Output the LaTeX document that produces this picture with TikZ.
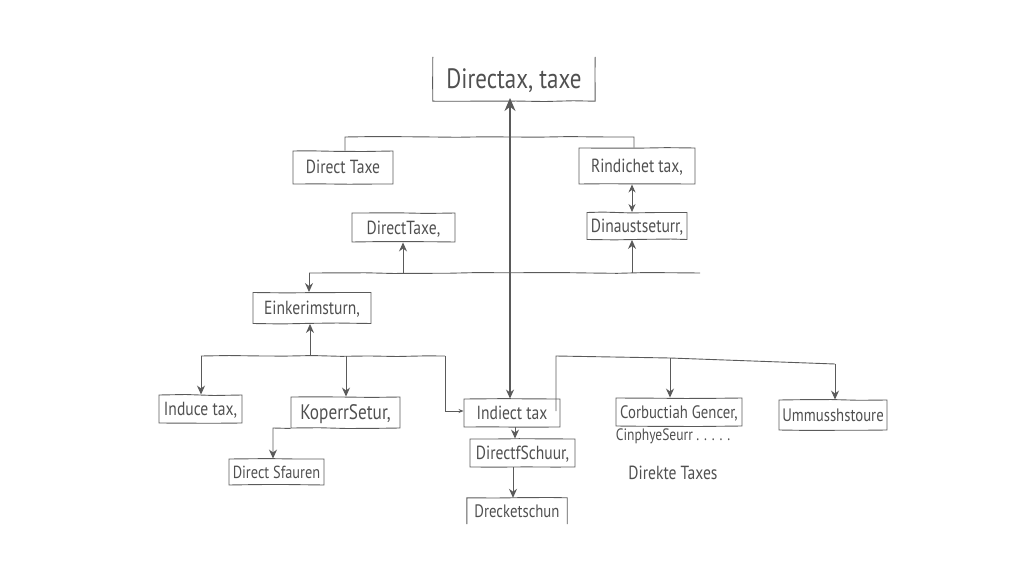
\documentclass[tikz,border=0pt]{standalone}
\usepackage{fontspec}
\setmainfont[FakeStretch=0.82]{PT Sans}
\usetikzlibrary{arrows.meta, decorations.pathmorphing}
\pgfmathsetseed{7}
\tikzset{
  shaky/.style={decorate, decoration={random steps, segment length=28pt, amplitude=0.5pt}},
  handfont/.style={font=\fontsize{#1}{#1}\selectfont},
  boxn/.style={draw=inkline, line width=0.9pt, text=inktext, inner sep=0pt, shaky, text height=13pt, text depth=0pt, handfont=19},
  plain/.style={text=inktext, inner sep=0pt, text height=13pt, text depth=0pt, handfont=19},
  wire/.style={draw=inkline, line width=0.9pt},
  tipwire/.style={wire, -{Stealth[length=9pt,width=8pt]}},
  twowire/.style={wire, {Stealth[length=8pt,width=7pt]}-{Stealth[length=8pt,width=7pt]}}
}
\definecolor{inkline}{HTML}{5A5A5A}
\definecolor{inktext}{HTML}{505050}

\begin{document}
\begin{tikzpicture}[x=1pt, y=-1pt]
\useasboundingbox (0,0) rectangle (1024,585);
% Boxes
    \node[plain, minimum width=162pt, minimum height=44pt, text height=20pt, handfont=28] (root) at (514,79) {Directax, taxe};
    \node[boxn, minimum width=100pt, minimum height=33pt] (directtaxe) at (343,167.5) {Direct Taxe};
    \node[boxn, minimum width=116pt, minimum height=36pt] (rindichet) at (637,166) {Rindichet tax,};
    \node[boxn, minimum width=103pt, minimum height=29pt] (directtax) at (403.5,227.5) {DirectTaxe,};
    \node[boxn, minimum width=100pt, minimum height=27pt] (dinaust) at (637,226) {Dinaustseturr,};
    \node[boxn, minimum width=118pt, minimum height=31pt] (einker) at (312,308) {Einkerimsturn,};
    \node[boxn, minimum width=83pt, minimum height=28pt] (induce) at (200.5,409) {Induce tax,};
    \node[boxn, minimum width=109pt, minimum height=31pt, handfont=21] (koperr) at (345.5,412.5) {KoperrSetur,};
    \node[boxn, minimum width=95pt, minimum height=26pt, handfont=17.5] (sfauren) at (276.5,472) {Direct Sfauren};
    \node[boxn, minimum width=96pt, minimum height=28pt] (indiect) at (512,413) {Indiect tax};
    \node[boxn, minimum width=105pt, minimum height=28pt] (schuur) at (522.5,453) {DirectfSchuur,};
    \node[plain, minimum width=100pt, minimum height=26pt, handfont=18] (dreck) at (517,511) {Drecketschun};
    \node[boxn, minimum width=126pt, minimum height=28pt, handfont=18] (corbu) at (679,412) {Corbuctiah Gencer,};
    \node[boxn, minimum width=108pt, minimum height=30pt, handfont=18] (ummus) at (833,415) {Ummusshstoure};
% Free labels
    \node[plain, handfont=16.5] (cinphye) at (673,434) {CinphyeSeurr . . . . .};
    \node[plain, handfont=19] (direkte) at (673,473) {Direkte Taxes};
% Open sides
    \draw[wire, shaky] (root.north west) -- (root.south west) -- (root.south east) -- (root.north east);
    \draw[wire, shaky] (dreck.south west) -- (dreck.north west) -- (dreck.north east) -- (dreck.south east);
% Junctions
    \coordinate (upleft) at (345,137);
    \coordinate (upright) at (634,137);
    \coordinate (midleft) at (309,273);
    \coordinate (midright) at (700,273);
    \coordinate (midtax) at (403,273);
    \coordinate (midaust) at (632,273);
    \coordinate (lowleft) at (201,356);
    \coordinate (lowmid) at (310,356);
    \coordinate (lowkop) at (346,356);
    \coordinate (lowright) at (445,356);
    \coordinate (sideind) at (445,411);
    \coordinate (kopfoot) at (273,428);
    \coordinate (rightup) at (556,356);
    \coordinate (rightcor) at (670,358);
    \coordinate (rightumm) at (835,364);
% Spine
    \coordinate (spinetop) at (510,98);
    \coordinate (spinemid) at (510,273);
    \draw[wire, line width=1.5pt, -{Stealth[length=13pt,width=11pt]}] (spinemid) -- (spinetop);
    \draw[wire, line width=1.2pt, -{Stealth[length=9pt,width=8pt]}] (spinemid) -- (indiect.north -| spinemid);
% Upper bus
    \draw[wire, shaky] (directtaxe.north -| upleft) -- (upleft) -- (upright) -- (rindichet.north -| upright);
    \draw[twowire] (rindichet.south -| midaust) -- (dinaust.north -| midaust);
% Middle bus
    \draw[wire, shaky] (midleft) -- (midright);
    \draw[tipwire] (midleft) -- (einker.north -| midleft);
    \draw[tipwire] (midtax) -- (directtax.south -| midtax);
    \draw[tipwire] (midaust) -- (dinaust.south -| midaust);
% Lower bus
    \draw[wire, shaky] (lowleft) -- (lowright);
    \draw[tipwire] (lowmid) -- (einker.south -| lowmid);
    \draw[tipwire] (lowleft) -- (induce.north -| lowleft);
    \draw[tipwire] (lowkop) -- (koperr.north -| lowkop);
    \draw[wire, -{Stealth[length=5pt,width=4pt]}] (lowright) -- (sideind) -- (indiect.west |- sideind);
    \draw[tipwire] (koperr.south west) -- (kopfoot) -- (sfauren.north -| kopfoot);
% Right bus
    \draw[wire] (rightup |- sideind) -- (rightup) -- (rightcor) -- (rightumm);
    \draw[tipwire] (rightcor) -- (corbu.north -| rightcor);
    \draw[tipwire] (rightumm) -- (ummus.north -| rightumm);
% Lower chain
    \coordinate (chaina) at (515,433);
    \coordinate (chainb) at (513,480);
    \draw[tipwire] (indiect.south -| chaina) -- (schuur.north -| chaina);
    \draw[tipwire] (schuur.south -| chainb) -- (dreck.north -| chainb);
\end{tikzpicture}
\end{document}
